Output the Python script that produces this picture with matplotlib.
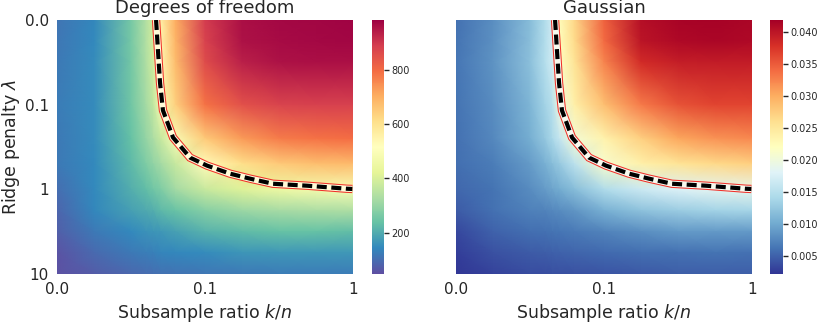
import matplotlib
matplotlib.use("Agg")

import numpy as np
import matplotlib.pyplot as plt

# ---------------------------
# DATA
# ---------------------------

# grid nodes, log10 of subsample ratio k/n and of ridge penalty lambda
LOG_RATIO = [-2.0, -1.75, -1.5, -1.4, -1.35, -1.3, -1.2, -1.0, -0.75, -0.5, -0.25, 0.0]
LOG_LAMBDA = [-2.0, -1.75, -1.5, -1.0, -0.6, -0.3, 0.0, 0.25, 0.5, 0.75, 1.0]

# degrees of freedom, one row per lambda node
DOF = [
    [113, 142, 260, 340, 395, 560, 700, 890, 960, 972, 975, 978],
    [115, 145, 258, 338, 392, 550, 690, 880, 955, 968, 972, 975],
    [118, 148, 255, 335, 388, 540, 675, 860, 935, 955, 960, 962],
    [122, 150, 250, 320, 365, 480, 640, 790, 850, 875, 882, 885],
    [120, 150, 235, 300, 330, 370, 490, 650, 730, 775, 790, 795],
    [118, 145, 220, 270, 295, 320, 370, 530, 610, 650, 670, 680],
    [100, 145, 205, 230, 250, 270, 320, 375, 410, 450, 475, 490],
    [85, 140, 180, 195, 205, 220, 240, 280, 310, 325, 330, 335],
    [75, 120, 145, 158, 163, 168, 180, 210, 225, 235, 235, 230],
    [58, 95, 120, 128, 132, 136, 140, 150, 162, 168, 168, 165],
    [52, 70, 90, 98, 101, 104, 108, 115, 120, 124, 124, 122],
]

# gaussian risk, one row per lambda node
GAUSS = [
    [0.0060, 0.0080, 0.0115, 0.0145, 0.0168, 0.0225, 0.0265, 0.0345, 0.0405, 0.0414, 0.0415, 0.0413],
    [0.0062, 0.0082, 0.0117, 0.0147, 0.0168, 0.0224, 0.0262, 0.0340, 0.0400, 0.0410, 0.0412, 0.0410],
    [0.0063, 0.0083, 0.0118, 0.0148, 0.0168, 0.0218, 0.0255, 0.0325, 0.0382, 0.0392, 0.0394, 0.0394],
    [0.0062, 0.0078, 0.0110, 0.0135, 0.0150, 0.0198, 0.0240, 0.0285, 0.0330, 0.0355, 0.0365, 0.0365],
    [0.0060, 0.0075, 0.0103, 0.0125, 0.0141, 0.0160, 0.0205, 0.0235, 0.0272, 0.0302, 0.0315, 0.0322],
    [0.0058, 0.0068, 0.0090, 0.0105, 0.0115, 0.0127, 0.0152, 0.0210, 0.0238, 0.0253, 0.0264, 0.0272],
    [0.0054, 0.0062, 0.0078, 0.0090, 0.0096, 0.0102, 0.0115, 0.0145, 0.0165, 0.0178, 0.0185, 0.0190],
    [0.0046, 0.0060, 0.0070, 0.0073, 0.0075, 0.0078, 0.0085, 0.0104, 0.0120, 0.0130, 0.0136, 0.0137],
    [0.0034, 0.0050, 0.0058, 0.0060, 0.0061, 0.0063, 0.0066, 0.0073, 0.0080, 0.0087, 0.0088, 0.0087],
    [0.0028, 0.0040, 0.0046, 0.0048, 0.0049, 0.0050, 0.0052, 0.0055, 0.0058, 0.0060, 0.0061, 0.0060],
    [0.0023, 0.0030, 0.0036, 0.0037, 0.0038, 0.0039, 0.0040, 0.0042, 0.0045, 0.0048, 0.0048, 0.0048],
]

# dashed boundary curve (k/n, lambda)
BOUND_RATIO = [0.0467, 0.0481, 0.0497, 0.0520, 0.0608, 0.0792, 0.1033, 0.1476, 0.2014, 0.2877, 0.4887, 0.910, 0.99]
BOUND_LAMBDA = [0.01, 0.0227, 0.0558, 0.117, 0.244, 0.422, 0.525, 0.653, 0.748, 0.859, 0.906, 0.984, 0.99]

X_TICKS = [0.01, 0.1, 1]
X_LABELS = ["0.0", "0.1", "1"]
Y_TICKS = [0.01, 0.1, 1, 10]
Y_LABELS = ["0.0", "0.1", "1", "10"]

DOF_TICKS = [200, 400, 600, 800]
GAUSS_TICKS = [0.005, 0.010, 0.015, 0.020, 0.025, 0.030, 0.035, 0.040]

# ---------------------------
# PLOT
# ---------------------------

TXT = "#262626"
plt.rcParams["font.family"] = "DejaVu Sans"

fig = plt.figure(figsize=(8.22, 3.22), dpi=100)

ax1 = fig.add_axes([57 / 822, 48 / 322, 296 / 822, 254 / 322])
cax1 = fig.add_axes([372 / 822, 48 / 322, 12 / 822, 254 / 322])
ax2 = fig.add_axes([456 / 822, 48 / 322, 296 / 822, 254 / 322])
cax2 = fig.add_axes([770 / 822, 48 / 322, 13 / 822, 254 / 322])

gx, gy = np.meshgrid(LOG_RATIO, LOG_LAMBDA)
bx = np.log10(BOUND_RATIO)
by = np.log10(BOUND_LAMBDA)

panels = [
    (ax1, cax1, DOF, "Spectral_r", 48, 984, "Degrees of freedom", DOF_TICKS, "%d", "#fffbd8"),
    (ax2, cax2, GAUSS, "RdYlBu_r", 0.0022, 0.0418, "Gaussian", GAUSS_TICKS, "%.3f", "#f6f9ee"),
]

for ax, cax, z, cmap, vmin, vmax, title, cticks, cfmt, inner in panels:
    mesh = ax.pcolormesh(gx, gy, np.array(z), shading="gouraud",
                         cmap=cmap, vmin=vmin, vmax=vmax, rasterized=True)

    # boundary band: red outline, pale inside, black dashes
    ax.plot(bx, by, color="#f0302a", lw=6.0, solid_capstyle="butt",
            solid_joinstyle="miter", zorder=3)
    ax.plot(bx, by, color=inner, lw=4.5, solid_capstyle="butt",
            solid_joinstyle="miter", zorder=4)
    ax.plot(bx, by, color="black", lw=3.0, linestyle=(0, (2.4, 1.1)),
            zorder=5)

    ax.set_xlim(-2, 0)
    ax.set_ylim(1, -2)
    ax.set_xticks(np.log10(X_TICKS))
    ax.set_xticklabels(X_LABELS)
    ax.tick_params(axis="both", length=0, labelsize=11, colors=TXT, pad=6)
    for s in ax.spines.values():
        s.set_visible(False)
    ax.set_title(title, fontsize=13, color=TXT, pad=5)
    ax.set_xlabel("Subsample ratio $k/n$", fontsize=12.5, color=TXT, labelpad=3)

    cb = fig.colorbar(mesh, cax=cax, ticks=cticks, format=cfmt)
    cb.outline.set_visible(False)
    cax.tick_params(labelsize=7, length=3.5, width=1, colors=TXT, pad=2)

ax1.set_yticks(np.log10(Y_TICKS))
ax1.set_yticklabels(Y_LABELS)
ax1.set_ylabel("Ridge penalty $\\lambda$", fontsize=12.5, color=TXT, labelpad=2)
ax2.set_yticks([])

plt.savefig("out.png", dpi=100)
